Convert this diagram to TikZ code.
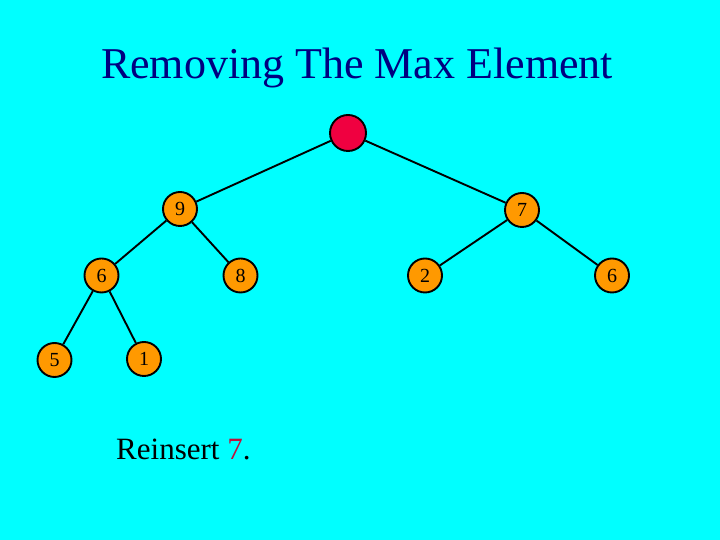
\documentclass[tikz,border=0pt]{standalone}
\usepackage{fontspec}
\setmainfont{Liberation Serif}
\usepackage{xcolor}
\usepackage{tikz}
\usetikzlibrary{positioning}
\definecolor{SlideCyan}{HTML}{00FFFF}
\definecolor{TitleNavy}{HTML}{000080}
\definecolor{HeapOrange}{HTML}{FF9900}
\definecolor{RootRed}{HTML}{F00040}
\definecolor{KeyRed}{HTML}{C0103C}

\begin{document}
\begin{tikzpicture}[x=1pt,y=1pt,
  heapnode/.style={circle,draw=black,line width=1.9pt,fill=HeapOrange,minimum size=34pt,inner sep=0pt,font=\rmfamily\fontsize{20}{20}\selectfont},
  rootnode/.style={heapnode,fill=RootRed,minimum size=36pt},
  edgeline/.style={black,line width=1.9pt}]
  \fill[SlideCyan] (0,0) rectangle (720,540);
  \useasboundingbox (0,0) rectangle (720,540);
  \node[text=TitleNavy,font=\rmfamily\fontsize{44}{44}\selectfont,anchor=base] (title) at (357,461) {Removing The Max Element};
  % heap after removing the root
  \node[rootnode] (root) at (348,407) {};
  \node[heapnode] (n9) at (180,331) {9};
  \node[heapnode] (n7) at (522,330) {7};
  \node[heapnode] (n6a) at (101.5,264.5) {6};
  \node[heapnode] (n8) at (240.5,264.5) {\raisebox{-4pt}{8}};
  \node[heapnode] (n2) at (425,264.5) {2};
  \node[heapnode] (n6b) at (612,264.5) {6};
  \node[heapnode] (n5) at (54.5,180) {5};
  \node[heapnode] (n1) at (144,181) {1};
  \draw[edgeline] (root) -- (n9);
  \draw[edgeline] (root) -- (n7);
  \draw[edgeline] (n9) -- (n6a);
  \draw[edgeline] (n9) -- (n8);
  \draw[edgeline] (n7) -- (n2);
  \draw[edgeline] (n7) -- (n6b);
  \draw[edgeline] (n6a) -- (n5);
  \draw[edgeline] (n6a) -- (n1);
  \node[font=\rmfamily\fontsize{31}{31}\selectfont,anchor=base west,inner sep=0pt] (note) at (116,80) {Reinsert \textcolor{KeyRed}{7}.};
\end{tikzpicture}
\end{document}
